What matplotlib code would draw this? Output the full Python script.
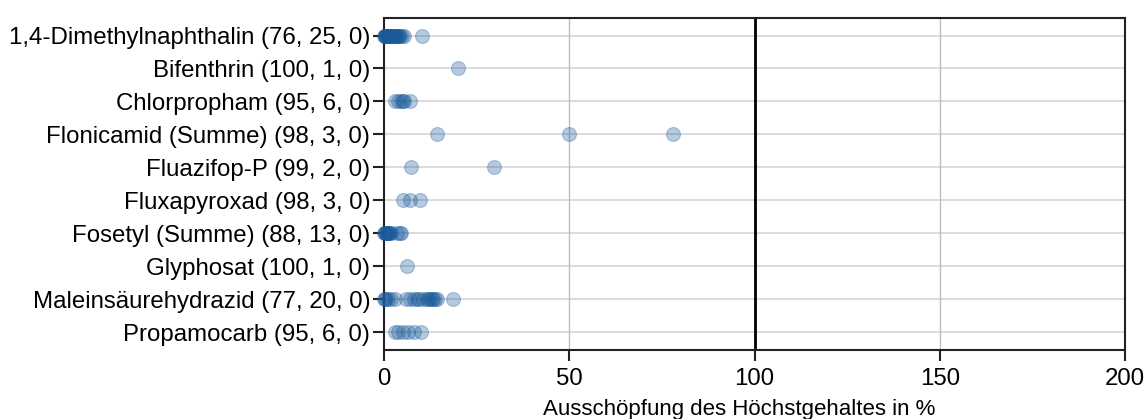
import numpy as np
import matplotlib.pyplot as plt

plt.rcParams['font.family'] = ['Liberation Sans', 'DejaVu Sans']

# Wirkstoffe (Anzahl < BG, Anzahl quantifiziert, Anzahl > Höchstgehalt)
labels = [
    '1,4-Dimethylnaphthalin (76, 25, 0)',
    'Bifenthrin (100, 1, 0)',
    'Chlorpropham (95, 6, 0)',
    'Flonicamid (Summe) (98, 3, 0)',
    'Fluazifop-P (99, 2, 0)',
    'Fluxapyroxad (98, 3, 0)',
    'Fosetyl (Summe) (88, 13, 0)',
    'Glyphosat (100, 1, 0)',
    'Maleinsäurehydrazid (77, 20, 0)',
    'Propamocarb (95, 6, 0)',
]

# Ausschöpfung in % je Wirkstoff
dimethylnaphthalin = [0.1, 0.2, 0.3, 0.4, 0.5, 0.6, 0.8, 1.0, 1.2, 1.4, 1.6, 1.8, 2.0,
                      2.2, 2.5, 2.8, 3.0, 3.2, 3.5, 3.8, 4.0, 4.3, 4.8, 5.3, 10.3]
bifenthrin = [20.0]
chlorpropham = [3.0, 3.8, 4.5, 5.0, 5.5, 7.0]
flonicamid = [14.3, 50.0, 78.0]
fluazifop = [7.3, 29.7]
fluxapyroxad = [5.0, 7.0, 9.8]
fosetyl = [0.1, 0.2, 0.3, 0.5, 0.7, 0.9, 1.1, 1.4, 1.7, 2.0, 3.6, 4.2, 4.6]
glyphosat = [6.3]
maleinsaeurehydrazid = [0.1, 0.3, 0.6, 1.0, 2.0, 3.0, 6.0, 7.0, 8.0, 8.8, 9.5, 10.5,
                        11.5, 12.0, 12.5, 13.0, 13.3, 13.8, 14.2, 18.6]
propamocarb = [3.0, 3.8, 5.2, 6.6, 8.0, 10.0]

werte = [dimethylnaphthalin, bifenthrin, chlorpropham, flonicamid, fluazifop,
         fluxapyroxad, fosetyl, glyphosat, maleinsaeurehydrazid, propamocarb]

xticks = [0, 50, 100, 150, 200]

fig = plt.figure(figsize=(11.47, 4.19), dpi=100)
ax = fig.add_axes([0.3348, 0.165, 0.981 - 0.3348, 0.957 - 0.165])

for i, v in enumerate(werte):
    ax.scatter(v, [i] * len(v), s=100, color='#1a5a9a', alpha=0.32,
               edgecolors='#1a5a9a', linewidths=0.8, zorder=3, clip_on=False)

ax.set_xlim(0, 200)
ax.set_ylim(len(labels) - 0.47, -0.53)
ax.set_yticks(range(len(labels)))
ax.set_yticklabels(labels)
ax.set_xticks(xticks)

# Gitter
for i in range(len(labels)):
    ax.axhline(i, color='#d9d9d9', lw=1.3, zorder=1)
for x in [50, 150]:
    ax.axvline(x, color='#bdbdbd', lw=1.0, zorder=1)
ax.axvline(100, color='black', lw=2.0, zorder=2)

for s in ax.spines.values():
    s.set_linewidth(1.5)
    s.set_color('#222222')

ax.tick_params(axis='both', labelsize=17.3, length=8, width=1.5, color='#222222')
ax.tick_params(axis='y', pad=2)
ax.tick_params(axis='x', pad=5)
ax.set_xlabel('Ausschöpfung des Höchstgehaltes in %', fontsize=16)
ax.xaxis.set_label_coords(0.479, -0.148)

fig.savefig('out.png', dpi=100)
